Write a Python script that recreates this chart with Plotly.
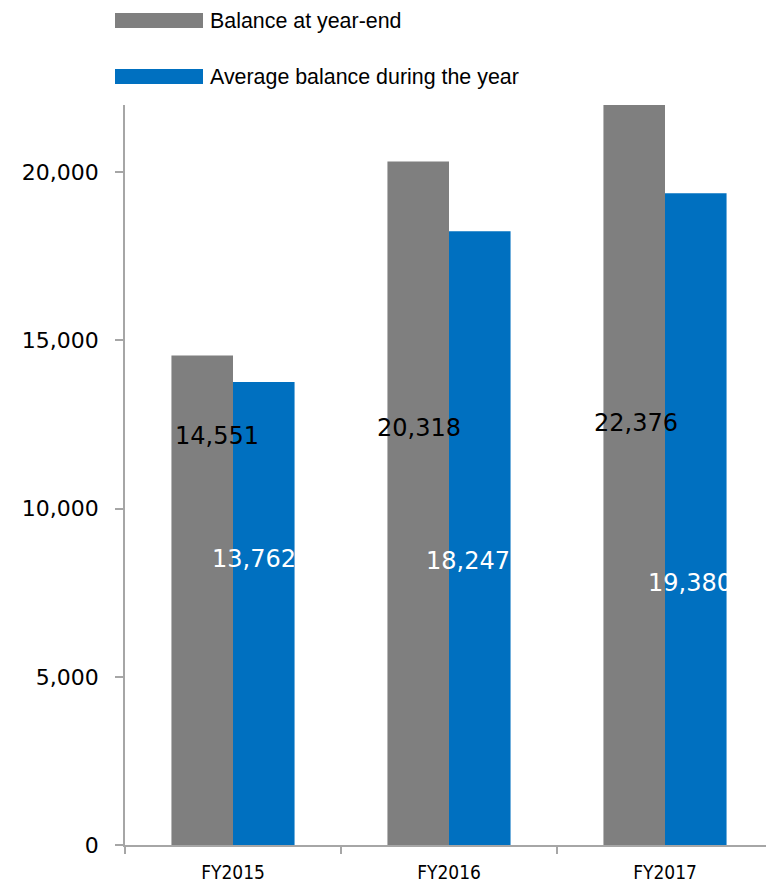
import plotly.graph_objects as go

categories = ["FY2015", "FY2016", "FY2017"]
year_end = [14551, 20318, 22376]
average = [13762, 18247, 19380]
series_names = ["Balance at year-end", "Average balance during the year"]
y_ticks = [0, 5000, 10000, 15000, 20000]

GRAY = "#7f7f7f"
BLUE = "#0070c0"
AXIS = "#a6a6a6"

# label placement (style): value-axis position and horizontal pixel shift from category centre
gray_label_y = [12170, 12410, 12560]
gray_label_dx = [-16, -30, -29]
blue_label_y = [8510, 8430, 7800]
blue_label_dx = [21, 19, 25]

fig = go.Figure()
fig.add_trace(go.Bar(x=categories, y=year_end, name=series_names[0],
                     marker=dict(color=GRAY, line=dict(width=0)), showlegend=False))
fig.add_trace(go.Bar(x=categories, y=average, name=series_names[1],
                     marker=dict(color=BLUE, line=dict(width=0)), showlegend=False))

for i, c in enumerate(categories):
    fig.add_annotation(x=c, y=gray_label_y[i], xref="x", yref="y",
                       text=f"{year_end[i]:,}", showarrow=False,
                       xshift=gray_label_dx[i],
                       font=dict(family="DejaVu Sans", size=24, color="#000000"))
    fig.add_annotation(x=c, y=blue_label_y[i], xref="x", yref="y",
                       text=f"{average[i]:,}", showarrow=False,
                       xshift=blue_label_dx[i],
                       font=dict(family="DejaVu Sans", size=24, color="#ffffff"))

# custom legend
legend_colors = [GRAY, BLUE]
legend_rows = [(13, 28), (69, 84)]
H = 885
W = 766
for name, col, (y0, y1) in zip(series_names, legend_colors, legend_rows):
    fig.add_shape(type="rect", xref="paper", yref="paper",
                  x0=(115 - 125) / (W - 125), x1=(203 - 125) / (W - 125),
                  y0=(H - 40 - y1) / (H - 145), y1=(H - 40 - y0) / (H - 145),
                  fillcolor=col, line=dict(width=0))
    fig.add_annotation(xref="paper", yref="paper",
                       x=(208 - 125) / (W - 125), y=(H - 40 - (y0 + y1) / 2 - 0.5) / (H - 145),
                       xanchor="left", yanchor="middle", showarrow=False, text=name,
                       font=dict(family="Liberation Sans", size=21.4, color="#000000"))

fig.update_layout(
    width=W, height=H,
    margin=dict(l=125, r=0, t=105, b=40, autoexpand=False),
    paper_bgcolor="white", plot_bgcolor="white",
    barmode="group", bargap=0.43, bargroupgap=0,
    showlegend=False,
)
fig.update_xaxes(type="category", range=[-0.5, 2.4676],
                 showline=True, linecolor=AXIS, linewidth=1.5,
                 ticks="outside", tickson="boundaries", ticklen=7, tickcolor=AXIS,
                 tickwidth=1.5, showgrid=False,
                 tickfont=dict(family="DejaVu Sans Condensed", size=19, color="#000000"),
                 ticklabelstandoff=9)
fig.update_yaxes(range=[0, 22000], tickvals=y_ticks,
                 ticktext=[f"{v:,}" for v in y_ticks],
                 showline=True, linecolor=AXIS, linewidth=1.5,
                 ticks="outside", ticklen=8, tickcolor=AXIS, tickwidth=1.5,
                 showgrid=False, zeroline=False,
                 tickfont=dict(family="DejaVu Sans", size=22, color="#000000"),
                 ticklabelstandoff=12)

fig.write_html("out.html")
